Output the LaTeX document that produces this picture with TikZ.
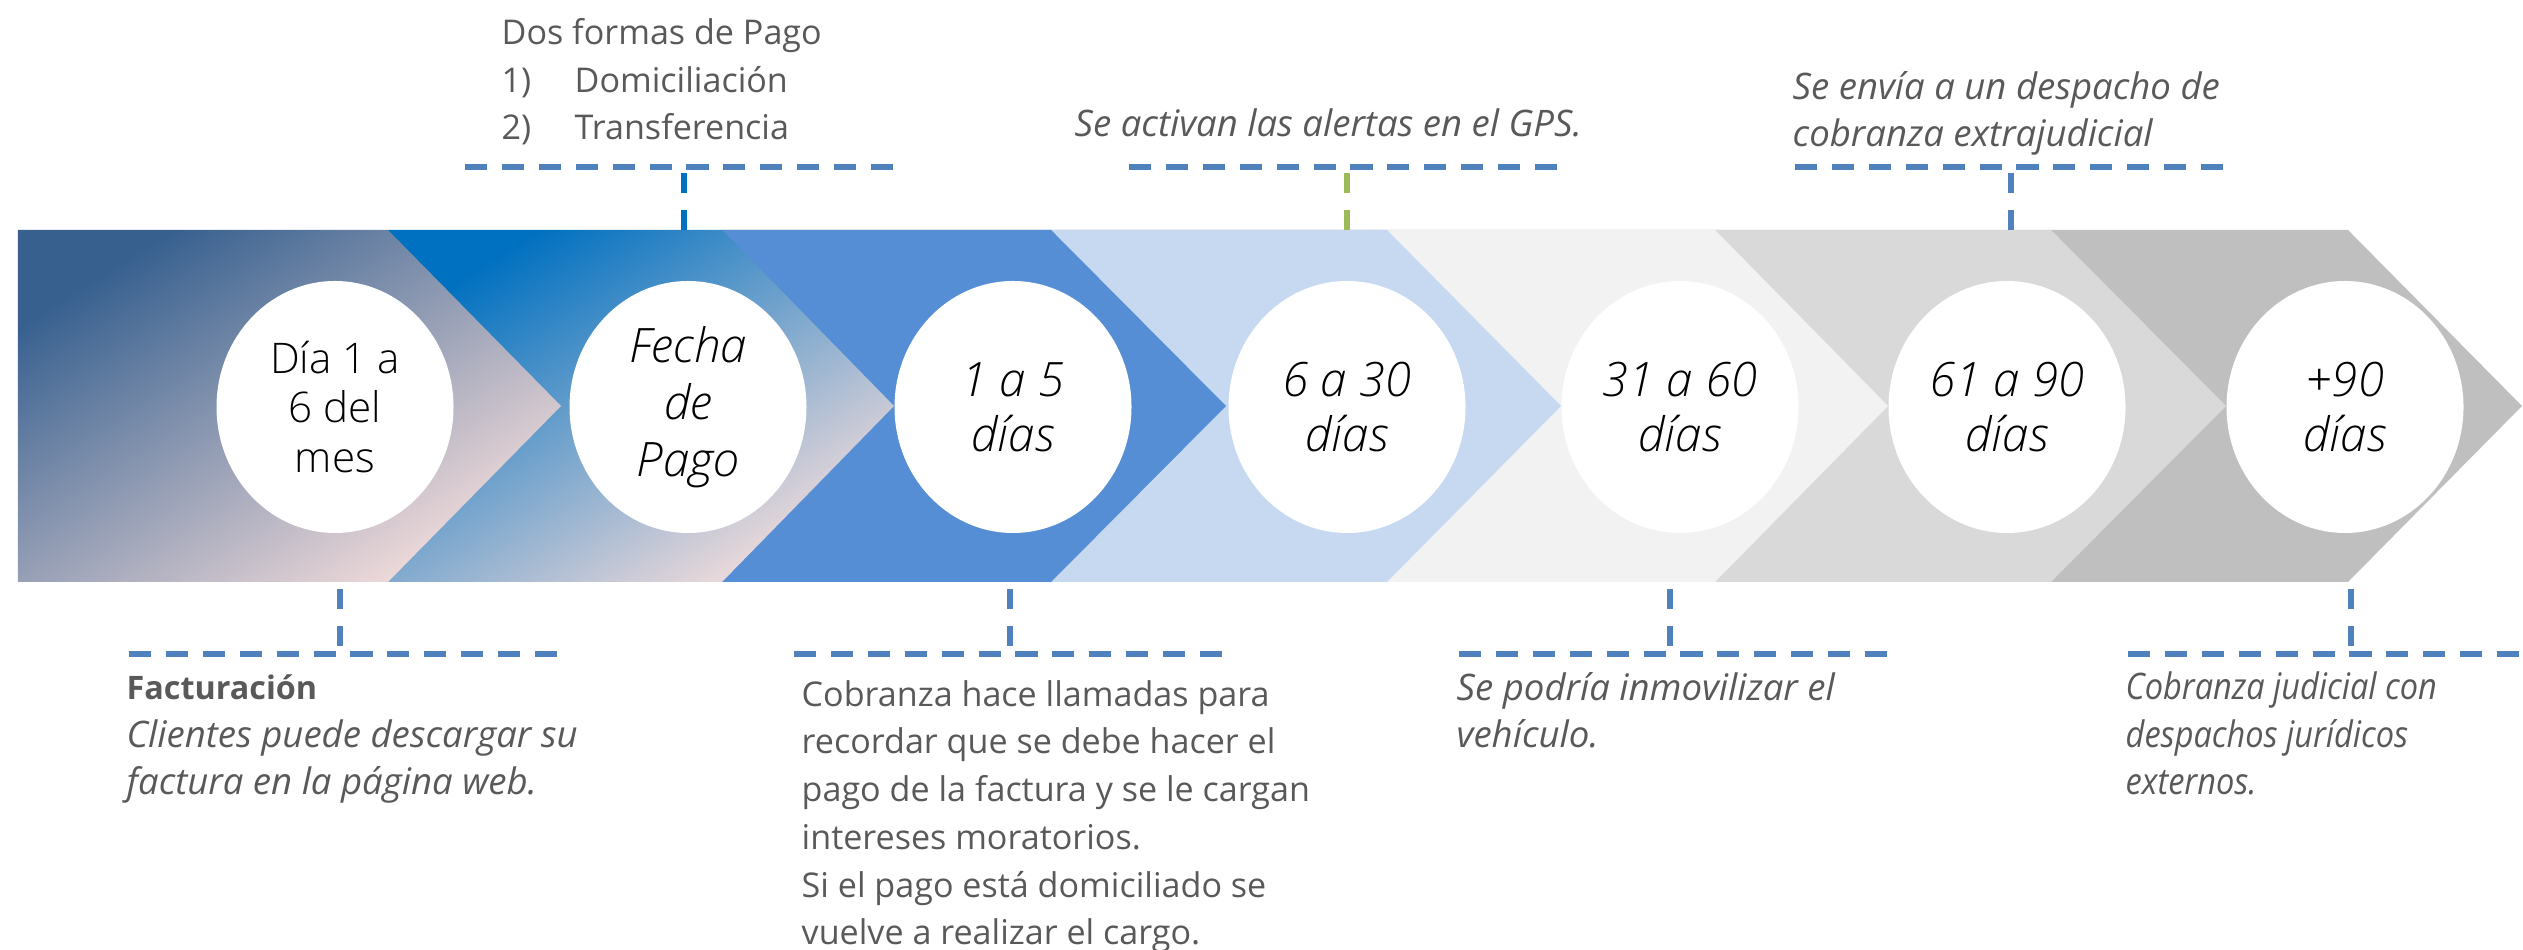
\documentclass[tikz,border=0pt]{standalone}
\usepackage{fontspec}
\setmainfont{Open Sans}
\IfFontExistsTF{Open Sans Light}
  {\newfontfamily\bubblefont{Open Sans Light}}
  {\newfontfamily\bubblefont{Open Sans}}
\usetikzlibrary{shapes.geometric}

\definecolor{txtgray}{HTML}{595959}
\definecolor{dashblue}{HTML}{4F81BD}
\definecolor{midblue}{HTML}{0070C0}
\definecolor{alertgreen}{HTML}{9BBB59}
\definecolor{steelblue}{HTML}{37608F}
\definecolor{blushpink}{HTML}{F2DCDB}
\definecolor{chevblue}{HTML}{558ED5}
\definecolor{chevpale}{HTML}{C6D9F1}
\definecolor{chevgrayA}{HTML}{F2F2F2}
\definecolor{chevgrayB}{HTML}{D9D9D9}
\definecolor{chevgrayC}{HTML}{BFBFBF}

\begin{document}
\begin{tikzpicture}[
    notetext/.style={anchor=base west, align=left, inner sep=0pt, text=txtgray,
      font=\fontsize{9.7}{13.6}\selectfont},
    noteital/.style={notetext, font=\itshape\fontsize{10.4}{13.6}\selectfont},
    daybubble/.style={ellipse, fill=white, minimum width=2.37cm, minimum height=2.52cm,
      inner sep=0pt, align=center, text=black,
      font=\bubblefont\itshape\fontsize{13.5}{15.6}\selectfont},
    notebar/.style={dashblue, line width=1.6pt, dash pattern=on 6.3pt off 4.2pt},
    notetick/.style={line width=1.5pt, dash pattern=on 5.7pt off 4.8pt}
  ]
      \useasboundingbox (0,0) rectangle (25.23,9.5);

      % chevron band, drawn from right to left
      \foreach \col/\tx/\px in {chevgrayC/23.48/25.22, chevgrayB/20.51/22.26,
                                chevgrayA/17.15/18.88, chevpale/13.87/15.61,
                                chevblue/10.51/12.26}
        \fill[\col] (7.22,7.20) -- (\tx,7.20) -- (\px,5.44) -- (\tx,3.68) -- (7.22,3.68) -- cycle;

      \shade[top color=midblue, middle color=midblue!65!blushpink, bottom color=blushpink,
             shading angle=32]
        (3.88,7.20) -- (7.22,7.20) -- (8.94,5.44) -- (7.22,3.68) -- (3.88,3.68) -- cycle;
      \shade[top color=steelblue, middle color=steelblue!70!blushpink, bottom color=blushpink,
             shading angle=32]
        (0.18,7.20) -- (3.88,7.20) -- (5.61,5.44) -- (3.88,3.68) -- (0.18,3.68) -- cycle;

      % day bubbles
      \node (D1) [daybubble, font=\bubblefont\fontsize{12}{14.2}\selectfont]
            at (3.35,5.43) {Día 1 a\\6 del\\mes};
      \node (D2) [daybubble, font=\bubblefont\itshape\fontsize{13.5}{16.2}\selectfont]
            at (6.88,5.43) {Fecha\\de\\Pago};
      \node (D3) [daybubble] at (10.13,5.43) {1 a 5\\días};
      \node (D4) [daybubble] at (13.47,5.43) {6 a 30\\días};
      \node (D5) [daybubble] at (16.80,5.43) {31 a 60\\días};
      \node (D6) [daybubble] at (20.07,5.43) {61 a 90\\días};
      \node (D7) [daybubble] at (23.45,5.43) {+90\\días};

      % notes above the band (placed at the baseline of their last line)
      \node (pago) [notetext] at (5.01,8.10)
            {Dos formas de Pago\\\makebox[0.73cm][l]{1)}Domiciliación\\\makebox[0.73cm][l]{2)}Transferencia};
      \node (gps) [noteital] at (10.74,8.13)
            {Se activan las alertas en el GPS.};
      \node (extra) [noteital] at (17.92,8.03)
            {Se envía a un despacho de\\cobranza extrajudicial};

      \draw[notebar] (4.65,7.83) -- (8.97,7.83);
      \draw[notebar] (11.29,7.83) -- (15.62,7.83);
      \draw[notebar] (17.95,7.83) -- (22.27,7.83);

      \coordinate (pagoT)  at (6.84,7.77);  \coordinate (pagoB)  at (6.84,7.20);
      \coordinate (gpsT)   at (13.47,7.77); \coordinate (gpsB)   at (13.47,7.20);
      \coordinate (extraT) at (20.11,7.77); \coordinate (extraB) at (20.11,7.20);

      \draw[notetick, midblue]    (pagoT)  -- (pagoB);
      \draw[notetick, alertgreen] (gpsT)   -- (gpsB);
      \draw[notetick, dashblue]   (extraT) -- (extraB);

      % notes below the band
      \node (fact) [noteital] at (1.26,1.55)
            {{\upshape\bfseries\fontsize{9.2}{13.6}\selectfont Facturación}\\Clientes puede descargar su\\factura en la página web.};
      \node (cobro) [notetext] at (8.01,0.05)
            {Cobranza hace llamadas para\\recordar que se debe hacer el\\pago de la factura y se le cargan\\intereses moratorios.\\Si el pago está domiciliado se\\vuelve a realizar el cargo.};
      \node (inmov) [noteital] at (14.56,2.02)
            {Se podría inmovilizar el\\vehículo.};
      \node (judic) [noteital, font=\itshape\fontsize{10.4}{13.6}\selectfont\addfontfeature{FakeStretch=0.89}]
            at (21.25,1.55) {Cobranza judicial con\\despachos jurídicos\\externos.};

      \draw[notebar] (1.29,2.96) -- (5.61,2.96);
      \draw[notebar] (7.94,2.96) -- (12.27,2.96);
      \draw[notebar] (14.59,2.96) -- (18.92,2.96);
      \draw[notebar] (21.28,2.96) -- (25.60,2.96);

      \coordinate (factT)  at (3.40,3.61);  \coordinate (factB)  at (3.40,3.03);
      \coordinate (cobroT) at (10.10,3.61); \coordinate (cobroB) at (10.10,3.03);
      \coordinate (inmovT) at (16.70,3.61); \coordinate (inmovB) at (16.70,3.03);
      \coordinate (judicT) at (23.51,3.61); \coordinate (judicB) at (23.51,3.03);

      \draw[notetick, dashblue] (factT)  -- (factB);
      \draw[notetick, dashblue] (cobroT) -- (cobroB);
      \draw[notetick, dashblue] (inmovT) -- (inmovB);
      \draw[notetick, dashblue] (judicT) -- (judicB);
\end{tikzpicture}
\end{document}
